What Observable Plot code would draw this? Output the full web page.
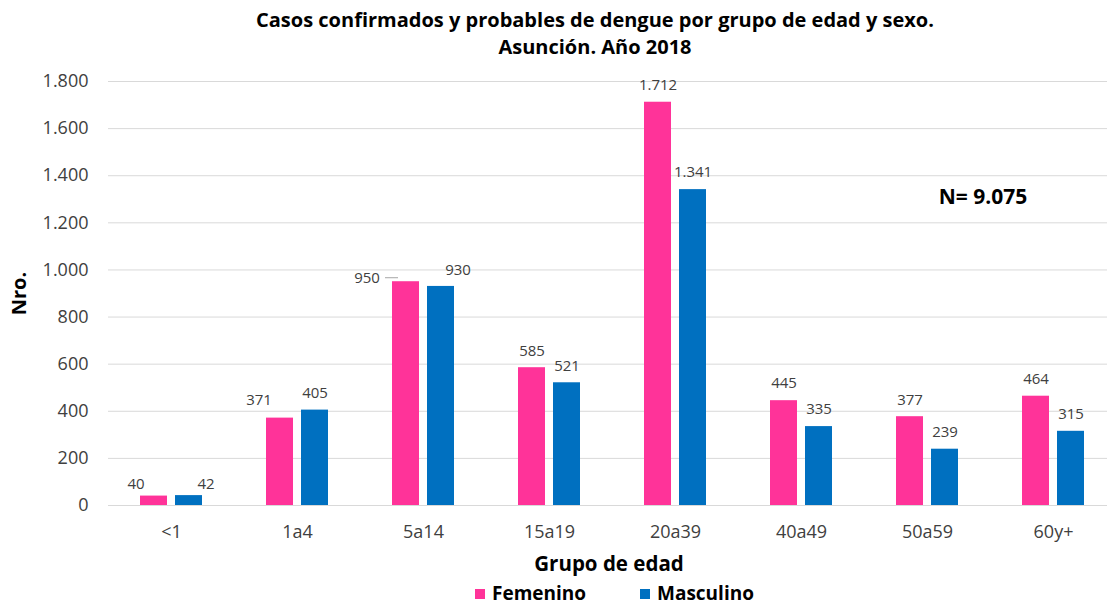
<!DOCTYPE html>
<html>
<head>
<meta charset="utf-8">
<script src="https://cdn.jsdelivr.net/npm/d3@7"></script>
<script src="https://cdn.jsdelivr.net/npm/@observablehq/plot@0.6"></script>
<style>
  html, body { margin: 0; padding: 0; background: #fff; }
  #wrap { position: relative; width: 1107px; height: 607px; overflow: hidden; font-family: "Open Sans", sans-serif; }
  #title { position: absolute; left: 0; top: 6px; width: 1190px; text-align: center; font-weight: bold; font-size: 20px; line-height: 27px; color: #000; letter-spacing: 0px; }
  #chart { position: absolute; left: 0; top: 62px; }
  #xlabel { position: absolute; left: 0; top: 548px; width: 1218px; text-align: center; font-weight: bold; font-size: 20.5px; line-height: 30px; color: #000; }
  #legend { position: absolute; left: 0; top: 580px; width: 1107px; height: 27px; font-weight: bold; font-size: 19px; line-height: 27px; color: #000; }
  .item { position: absolute; top: 0; white-space: nowrap; }
  .sw { display: inline-block; width: 10px; height: 10px; margin-right: 7px; vertical-align: 1px; }
</style>
</head>
<body>
<div id="wrap">
  <div id="title"></div>
  <div id="chart"></div>
  <div id="xlabel"></div>
  <div id="legend"></div>
</div>
<script>
const titleLines = ["Casos confirmados y probables de dengue por grupo de edad y sexo.", "Asunción. Año 2018"];
const groups = ["<1", "1a4", "5a14", "15a19", "20a39", "40a49", "50a59", "60y+"];
const series = ["Femenino", "Masculino"];
const femenino = [40, 371, 950, 585, 1712, 445, 377, 464];
const masculino = [42, 405, 930, 521, 1341, 335, 239, 315];
const colors = ["#FF3399", "#0070C0"];
const yTicks = [0, 200, 400, 600, 800, 1000, 1200, 1400, 1600, 1800];
const yLabel = "Nro.";
const xLabel = "Grupo de edad";
const totalNote = [{group: "50a59", sexo: "Masculino", value: 1310, text: "N= 9.075"}];

const data = groups.flatMap((g, i) => [
  {group: g, sexo: series[0], value: femenino[i]},
  {group: g, sexo: series[1], value: masculino[i]}
]);

// label nudges (placement only)
const nudges = [
  {group: "<1", sexo: "Femenino", dx: -18, dy: -12},
  {group: "<1", sexo: "Masculino", dx: 17, dy: -11},
  {group: "1a4", sexo: "Femenino", dx: -21, dy: -18},
  {group: "5a14", sexo: "Femenino", dx: -39, dy: -4},
  {group: "5a14", sexo: "Masculino", dx: 17, dy: -16}
];
const key = d => d.group + "|" + d.sexo;
const nudgeKeys = new Set(nudges.map(key));

const locale = d3.formatLocale({decimal: ",", thousands: ".", grouping: [3], currency: ["$", ""]});
const fmt = locale.format(",d");

const labelStyle = {fontSize: 15, fill: "#404040", fontFamily: "Open Sans, sans-serif"};

const marks = [
  Plot.ruleY(yTicks, {stroke: "#d9d9d9", strokeWidth: 1}),
  Plot.barY(data, {fx: "group", x: "sexo", y: "value", fill: "sexo"}),
  Plot.text(data.filter(d => !nudgeKeys.has(key(d))), {
    fx: "group", x: "sexo", y: "value", text: d => fmt(d.value), dy: -17, ...labelStyle
  }),
  ...nudges.map(n => Plot.text(data.filter(d => key(d) === key(n)), {
    fx: "group", x: "sexo", y: "value", text: d => fmt(d.value), dx: n.dx, dy: n.dy, ...labelStyle
  })),
  Plot.tickY(data.filter(d => d.group === "5a14" && d.sexo === "Femenino"), {
    fx: "group", x: "sexo", y: "value", dy: -4, dx: -7, insetRight: 14, stroke: "#a6a6a6", strokeWidth: 1
  }),
  Plot.text(totalNote, {
    fx: "group", x: "sexo", y: "value", text: "text",
    fontSize: 21, fontWeight: "bold", fill: "#000", dx: 38
  }),
  Plot.axisY({ticks: yTicks, tickFormat: fmt, tickSize: 0, tickPadding: 20, fontSize: 18, fill: "#404040", label: null}),
  Plot.axisY({ticks: [], label: yLabel, labelAnchor: "center", labelOffset: 97, labelArrow: "none", fontSize: 20, fontWeight: "bold", fill: "#000"}),
  Plot.axisFx({anchor: "bottom", tickSize: 0, tickPadding: 20, fontSize: 18, fill: "#404040", label: null})
];

const chart = Plot.plot({
  width: 1107,
  height: 486,
  marginLeft: 106,
  marginRight: 0,
  marginTop: 19,
  marginBottom: 43,
  style: {fontFamily: "Open Sans, sans-serif", background: "#fff", overflow: "visible"},
  fx: {domain: groups, range: [106, 1117], padding: 0, label: null},
  x: {domain: series, paddingInner: 0.222, paddingOuter: 0.867, axis: null},
  y: {domain: [0, 1800], axis: null},
  color: {domain: series, range: colors},
  marks
});
document.getElementById("chart").appendChild(chart);

document.getElementById("title").innerHTML = titleLines.map(t => `<div>${t}</div>`).join("");
document.getElementById("xlabel").textContent = xLabel;
const legend = document.getElementById("legend");
const legendX = [475, 640];
series.forEach((s, i) => {
  const it = document.createElement("div");
  it.className = "item";
  it.style.left = legendX[i] + "px";
  it.innerHTML = `<span class="sw" style="background:${colors[i]}"></span>${s}`;
  legend.appendChild(it);
});
</script>
</body>
</html>
